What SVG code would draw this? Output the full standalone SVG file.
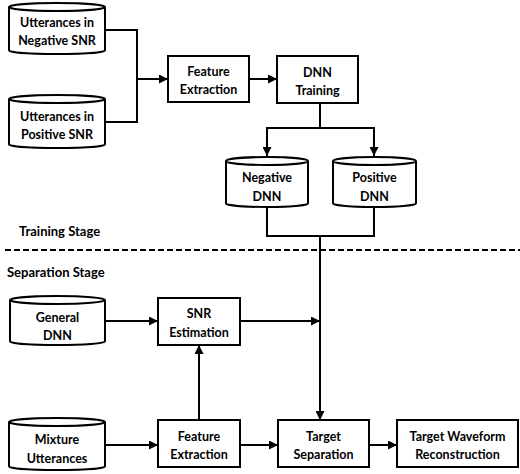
<svg xmlns="http://www.w3.org/2000/svg" width="520" height="474" viewBox="0 0 520 474">
<defs>
<style>
.s{fill:#fff;stroke:#000;stroke-width:2}
.c{fill:none;stroke:#000;stroke-width:2}
.t{font-family:Lato,"Liberation Sans",sans-serif;font-weight:bold;font-size:12.5px;text-anchor:middle;dominant-baseline:central;fill:#000}
.h{font-family:Lato,"Liberation Sans",sans-serif;font-weight:bold;font-size:13px;fill:#000}
</style>
<marker id="a" viewBox="0 0 10 10" refX="10" refY="5" markerWidth="4.5" markerHeight="4.5" orient="auto" markerUnits="strokeWidth">
<path d="M0,0 L10,5 L0,10 Z" fill="#000"/>
</marker>
</defs>
<rect width="520" height="474" fill="#fff"/>
<g id="connectors">
<path class="c" d="M105,30 H137 V122 H105"/>
<path class="c" d="M137,79 H168" marker-end="url(#a)"/>
<path class="c" d="M249,79 H277" marker-end="url(#a)"/>
<path class="c" d="M320,103 V128 M267,128 H374"/>
<path class="c" d="M267,127 V156" marker-end="url(#a)"/>
<path class="c" d="M374,127 V156" marker-end="url(#a)"/>
<path class="c" d="M267,207 V236 H374 V207"/>
<path class="c" d="M320,236 V420" marker-end="url(#a)"/>
<path class="c" d="M105,321 H158" marker-end="url(#a)"/>
<path class="c" d="M240,321 H320" marker-end="url(#a)"/>
<path class="c" d="M199,420 V345" marker-end="url(#a)"/>
<path class="c" d="M105,445 H158" marker-end="url(#a)"/>
<path class="c" d="M240,445 H278" marker-end="url(#a)"/>
<path class="c" d="M369,445 H397" marker-end="url(#a)"/>
<path d="M5,250 H520" fill="none" stroke="#000" stroke-width="2" stroke-dasharray="6,3"/>
</g>
<text class="h" x="19" y="236">Training Stage</text>
<text class="h" x="7" y="277">Separation Stage</text>
<g id="utt-neg">
<path class="s" d="M9,7 A48,4 0 0 1 105,7 V50.5 A48,3.5 0 0 1 9,50.5 Z"/>
<path class="c" d="M9,7 A48,4 0 0 0 105,7"/>
<text class="t" x="57" y="22">Utterances in</text>
<text class="t" x="57" y="40">Negative SNR</text>
</g>
<g id="utt-pos">
<path class="s" d="M9,99 A48,4 0 0 1 105,99 V144.5 A48,3.5 0 0 1 9,144.5 Z"/>
<path class="c" d="M9,99 A48,4 0 0 0 105,99"/>
<text class="t" x="57" y="116">Utterances in</text>
<text class="t" x="57" y="134">Positive SNR</text>
</g>
<g id="fe1">
<rect class="s" x="168" y="56" width="81" height="46"/>
<text class="t" x="208.5" y="71">Feature</text>
<text class="t" x="208.5" y="89">Extraction</text>
</g>
<g id="dnn-train">
<rect class="s" x="277" y="56" width="81" height="47"/>
<text class="t" x="317.5" y="72">DNN</text>
<text class="t" x="317.5" y="90">Training</text>
</g>
<g id="neg-dnn">
<path class="s" d="M226,161 A41,4 0 0 1 308,161 V203.5 A41,3.5 0 0 1 226,203.5 Z"/>
<path class="c" d="M226,161 A41,4 0 0 0 308,161"/>
<text class="t" x="267" y="177">Negative</text>
<text class="t" x="267" y="196">DNN</text>
</g>
<g id="pos-dnn">
<path class="s" d="M333,161 A41.5,4 0 0 1 416,161 V203.5 A41.5,3.5 0 0 1 333,203.5 Z"/>
<path class="c" d="M333,161 A41.5,4 0 0 0 416,161"/>
<text class="t" x="374.5" y="177">Positive</text>
<text class="t" x="374.5" y="196">DNN</text>
</g>
<g id="general-dnn">
<path class="s" d="M10,300 A47.5,4 0 0 1 105,300 V341.5 A47.5,3.5 0 0 1 10,341.5 Z"/>
<path class="c" d="M10,300 A47.5,4 0 0 0 105,300"/>
<text class="t" x="57.5" y="317">General</text>
<text class="t" x="57.5" y="335">DNN</text>
</g>
<g id="snr-est">
<rect class="s" x="158" y="298" width="82" height="47"/>
<text class="t" x="199" y="313">SNR</text>
<text class="t" x="199" y="332">Estimation</text>
</g>
<g id="mixture">
<path class="s" d="M9,422 A48,4 0 0 1 105,422 V466.5 A48,3.5 0 0 1 9,466.5 Z"/>
<path class="c" d="M9,422 A48,4 0 0 0 105,422"/>
<text class="t" x="57" y="439">Mixture</text>
<text class="t" x="57" y="458">Utterances</text>
</g>
<g id="fe2">
<rect class="s" x="158" y="420" width="82" height="47"/>
<text class="t" x="199" y="436">Feature</text>
<text class="t" x="199" y="454">Extraction</text>
</g>
<g id="target-sep">
<rect class="s" x="278" y="420" width="91" height="47"/>
<text class="t" x="323.5" y="436">Target</text>
<text class="t" x="323.5" y="454">Separation</text>
</g>
<g id="twr">
<rect class="s" x="397" y="420" width="121" height="47"/>
<text class="t" x="457.5" y="436">Target Waveform</text>
<text class="t" x="457.5" y="454">Reconstruction</text>
</g>
</svg>
